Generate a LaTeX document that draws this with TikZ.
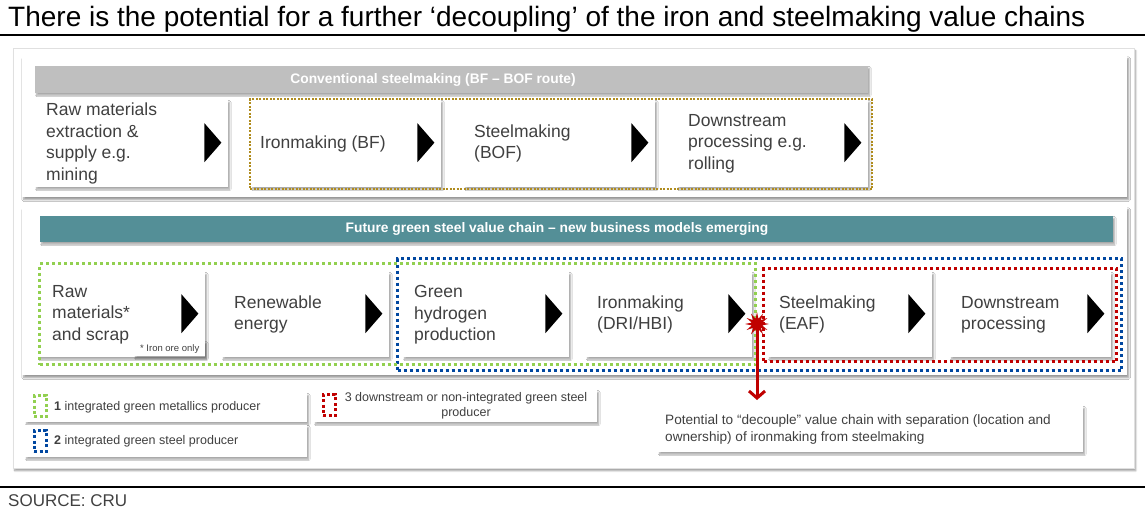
\documentclass[tikz,border=0pt]{standalone}
\usepackage{fontspec}
\setmainfont{Liberation Sans}
\usetikzlibrary{shadows,shadows.blur,shapes.geometric,arrows.meta,calc}
\definecolor{txt}{HTML}{404040}
\definecolor{barteal}{HTML}{548F97}
\definecolor{bargray}{HTML}{BFBFBF}
\definecolor{dotgold}{HTML}{B08C1E}
\definecolor{dotgreen}{HTML}{92D050}
\definecolor{dotblue}{HTML}{0047A0}
\definecolor{dotred}{HTML}{C00000}
\newcommand{\fs}[2]{\fontsize{#1}{#2}\selectfont}
\newcommand{\tri}[1]{\fill ($(#1.east)+(-24,-20.5)$) -- ($(#1.east)+(-7,-1)$) -- ($(#1.east)+(-24,18.5)$) -- cycle;}
\tikzset{
  card/.style={fill=white, inner sep=0pt, anchor=north west,
    blur shadow={shadow xshift=1.5pt, shadow yshift=-2pt, shadow blur radius=1.5pt, shadow blur steps=6, shadow opacity=35}},
  panel/.style={fill=white, inner sep=0pt, anchor=north west,
    blur shadow={shadow xshift=1.5pt, shadow yshift=-2.5pt, shadow blur radius=1.8pt, shadow blur steps=6, shadow opacity=40}},
  boxtxt/.style={anchor=west, align=left, inner sep=0pt, text=txt, font=\fs{17.5}{21.5}},
  bartxt/.style={text=white, font=\bfseries\fs{13.8}{15}, inner sep=0pt},
  dots/.style={line width=3pt, dash pattern=on 3pt off 3pt, anchor=north west, inner sep=0pt},
  golddots/.style={line width=2pt, dash pattern=on 2pt off 1.5pt, draw=dotgold, anchor=north west, inner sep=0pt},
  icon/.style={line width=3pt, dash pattern=on 3pt off 2.5pt, minimum width=12pt, minimum height=21pt, inner sep=0pt},
  legtxt/.style={text=txt, font=\fs{12.5}{15}, inner sep=0pt},
}
\begin{document}
\begin{tikzpicture}[x=1pt,y=-1pt]
\useasboundingbox (0,0) rectangle (1145,517);

% title and rules
\node[anchor=base west, inner sep=0pt, font=\fs{28}{32}] (title) at (8,26) {There is the potential for a further ‘decoupling’ of the iron and steelmaking value chains};
\coordinate (r1a) at (0,35); \coordinate (r1b) at (1145,35);
\draw[line width=1.5pt] (r1a) -- (r1b);
\coordinate (r2a) at (0,487); \coordinate (r2b) at (1145,487);
\draw[line width=1.2pt] (r2a) -- (r2b);
\node[anchor=west, inner sep=0pt, text=txt, font=\fs{17}{20}] (source) at (8,501) {SOURCE: CRU};

% frames
\node[panel, draw=black!12, minimum width=1121pt, minimum height=420pt] (frame) at (13,48) {};
\node[panel, minimum width=1105pt, minimum height=141pt] (upper) at (22,56) {};
\node[panel, minimum width=1105pt, minimum height=168pt] (lower) at (22,207) {};

% conventional route
\node[card, fill=bargray, minimum width=833pt, minimum height=27pt] (graybar) at (35,66) {};
\node[bartxt] (graylbl) at (433,79.5) {Conventional steelmaking (BF – BOF route)};

\node[card, minimum width=193pt, minimum height=87pt] (u1) at (35,100) {};
\node[card, minimum width=190pt, minimum height=87pt] (u2) at (251,100) {};
\node[card, minimum width=191pt, minimum height=87pt] (u3) at (464,100) {};
\node[card, minimum width=191pt, minimum height=87pt] (u4) at (677,100) {};
\node[boxtxt] (u1t) at ($(u1.west)+(11,0)$) {Raw materials\\extraction \&\\supply e.g.\\mining};
\node[boxtxt] (u2t) at ($(u2.west)+(9,0)$) {Ironmaking (BF)};
\node[boxtxt] (u3t) at ($(u3.west)+(10,0)$) {Steelmaking\\(BOF)};
\node[boxtxt] (u4t) at ($(u4.west)+(11,0)$) {Downstream\\processing e.g.\\rolling};
\tri{u1}\tri{u2}\tri{u3}\tri{u4}
\node[golddots, minimum width=622pt, minimum height=90pt] (goldgrp) at (249,98) {};

% future route
\node[card, fill=barteal, minimum width=1073pt, minimum height=26pt] (tealbar) at (40,216) {};
\node[bartxt] (teallbl) at (557,229) {Future green steel value chain – new business models emerging};

\node[card, minimum width=167pt, minimum height=85pt] (lA) at (38,272) {};
\node[card, minimum width=167pt, minimum height=85pt] (lB) at (222,272) {};
\node[card, minimum width=166pt, minimum height=85pt] (lC) at (403,272) {};
\node[card, minimum width=166pt, minimum height=85pt] (lD) at (586,272) {};
\node[card, minimum width=164pt, minimum height=85pt] (lE) at (768,272) {};
\node[card, minimum width=161pt, minimum height=85pt] (lF) at (950,272) {};
\node[boxtxt] (lAt) at ($(lA.west)+(14,0)$) {Raw\\materials*\\and scrap};
\node[boxtxt] (lBt) at ($(lB.west)+(12,0)$) {Renewable\\energy};
\node[boxtxt] (lCt) at ($(lC.west)+(11,0)$) {Green\\hydrogen\\production};
\node[boxtxt] (lDt) at ($(lD.west)+(11,0)$) {Ironmaking\\(DRI/HBI)};
\node[boxtxt] (lEt) at ($(lE.west)+(11,0)$) {Steelmaking\\(EAF)};
\node[boxtxt] (lFt) at ($(lF.west)+(11,0)$) {Downstream\\processing};
\tri{lA}\tri{lB}\tri{lC}\tri{lD}\tri{lE}\tri{lF}
\node[card, minimum width=71pt, minimum height=15pt, text=txt, font=\fs{9.5}{10}] (note) at (134,341) {* Iron ore only};

\node[dots, draw=dotblue, minimum width=724pt, minimum height=112pt] (bluegrp) at (396,257) {};
\node[dots, draw=dotgreen, minimum width=716pt, minimum height=101pt] (greengrp) at (38,262) {};
\node[dots, draw=dotred, minimum width=353pt, minimum height=93pt] (redgrp) at (762,267) {};

% legend
\node[card, minimum width=282pt, minimum height=29pt] (L1) at (25,393) {};
\node[card, minimum width=282pt, minimum height=32pt] (L2) at (25,425) {};
\node[card, minimum width=283pt, minimum height=32pt] (L3) at (314,390) {};
\node[icon, draw=dotgreen] (i1) at (40,406) {};
\node[icon, draw=dotblue] (i2) at (40,441) {};
\node[icon, draw=dotred] (i3) at (329,405) {};
\node[legtxt, anchor=west] (L1t) at (54,407) {\textbf{1} integrated green metallics producer};
\node[legtxt, anchor=west] (L2t) at (54,441) {\textbf{2} integrated green steel producer};
\node[legtxt, align=center] (L3t) at (466,406) {3 downstream or non-integrated green steel\\producer};

% decoupling callout
\node[card, minimum width=425pt, minimum height=46pt] (callout) at (658,406) {};
\node[legtxt, anchor=west, align=left, font=\fs{13.6}{17}] (callt) at ($(callout.west)+(7,0)$) {Potential to “decouple” value chain with separation (location and\\ownership) of ironmaking from steelmaking};
\node[star, star points=12, star point ratio=2.2, fill=dotred, minimum size=24pt, inner sep=0pt] (burst) at (757,324) {};
\draw[dotred, line width=3pt, -{Straight Barb[length=7pt,width=16pt,line width=3pt]}, shorten >=6pt] (burst.center) -- (burst.center |- callout.north);
\end{tikzpicture}
\end{document}
